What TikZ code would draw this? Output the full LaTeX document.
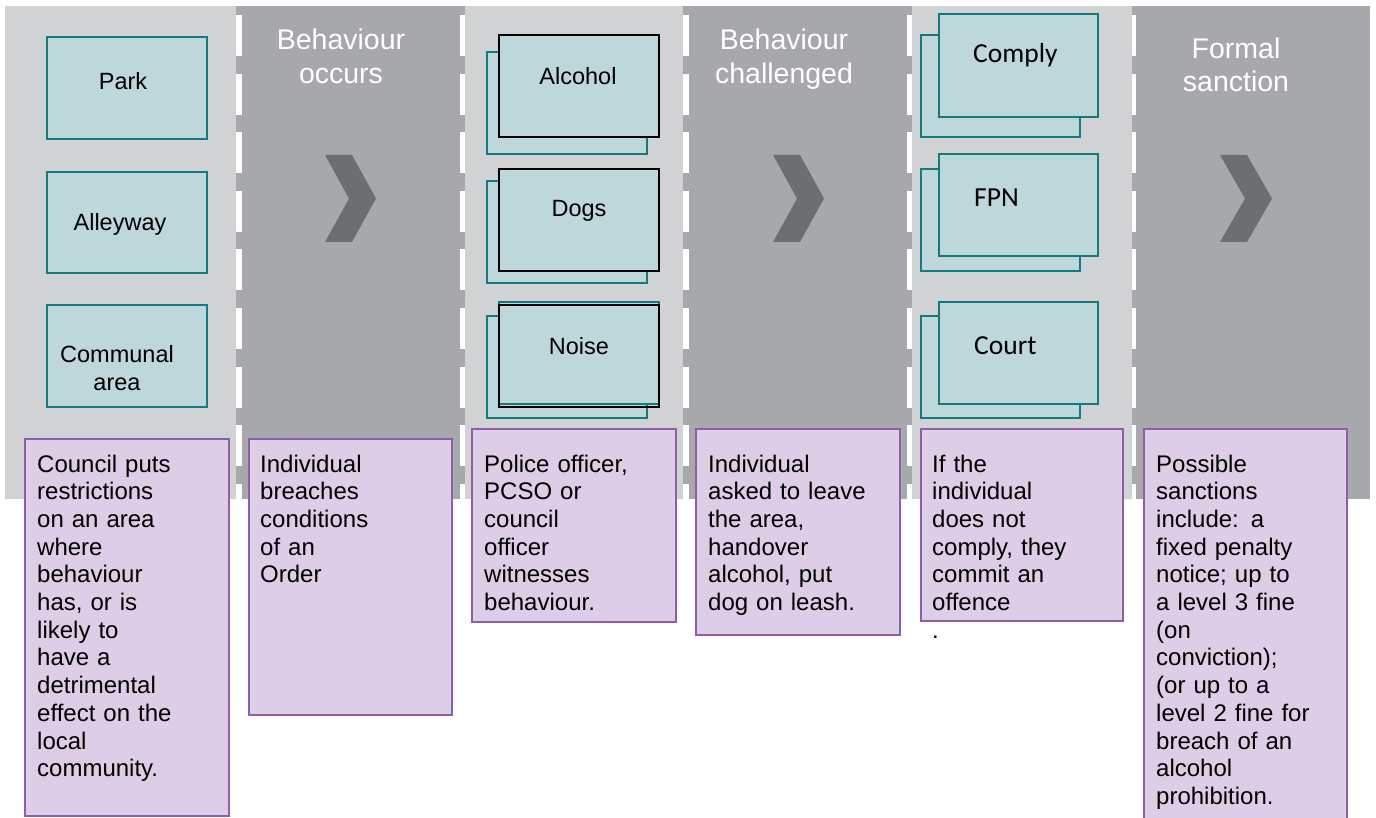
\documentclass[tikz,border=0pt]{standalone}
\usepackage{fontspec}
\setmainfont{Liberation Sans}
\newfontfamily\calfont{Carlito}
\definecolor{lightcol}{HTML}{D1D2D4}
\definecolor{darkcol}{HTML}{A7A8AB}
\definecolor{chevcol}{HTML}{6D6E71}
\definecolor{tealfill}{HTML}{BDD7DA}
\definecolor{tealline}{HTML}{127B7E}
\definecolor{purfill}{HTML}{DDCDE6}
\definecolor{purline}{HTML}{8F5EA9}
\begin{document}
\begin{tikzpicture}[x=1pt,y=-1pt,
  lightstrip/.style={fill=lightcol},
  darkstrip/.style={fill=darkcol},
  divider/.style={draw=white,line width=5.5pt,dash pattern=on 41pt off 17.6pt},
  chevron/.style={fill=chevcol},
  header/.style={text=white,font=\fontsize{28.5}{34}\selectfont,text width=230pt,align=center,inner sep=0pt,anchor=base},
  tbox/.style={draw=tealline,fill=tealfill,line width=1.3pt,inner sep=0pt,minimum width=160pt,minimum height=102pt},
  fbox/.style={draw=black,fill=tealfill,line width=2pt,inner sep=0pt,minimum width=160pt,minimum height=102pt},
  cbox/.style={draw=tealline,fill=tealfill,line width=1.8pt,inner sep=0pt,minimum width=159pt,minimum height=102pt},
  tlabel/.style={font=\fontsize{23.5}{27.3}\selectfont,inner sep=0pt,anchor=base,text width=160pt,align=center},
  clabel/.style={font=\calfont\fontsize{27.5}{33}\selectfont,inner sep=0pt,anchor=base west},
  pbox/.style={draw=purline,fill=purfill,line width=1.5pt,inner sep=0pt},
  ptext/.style={font=\fontsize{24}{27.7}\selectfont,inner sep=0pt,anchor=base west,text width=200pt,align=left},
]
\clip (0,0) rectangle (1376,818);
% strips
\fill[lightstrip] (5,6) rectangle (236,499);
\fill[darkstrip] (236,6) rectangle (465,499);
\fill[lightstrip] (465,6) rectangle (683,499);
\fill[darkstrip] (683,6) rectangle (912,499);
\fill[lightstrip] (912,6) rectangle (1132,499);
\fill[darkstrip] (1132,6) rectangle (1370,499);
% dividers
\draw[divider] (239,15) -- (239,499);
\draw[divider] (462.5,15) -- (462.5,499);
\draw[divider] (685.8,15) -- (685.8,499);
\draw[divider] (909.7,15) -- (909.7,499);
\draw[divider,line width=4.3pt] (1133.8,15) -- (1133.8,499);
% chevrons
\fill[chevron] (325,155) -- (352,155) -- (376,198.5) -- (352,242) -- (325,242) -- (349,198.5) -- cycle;
\fill[chevron] (773,155) -- (800,155) -- (824,198.5) -- (800,242) -- (773,242) -- (797,198.5) -- cycle;
\fill[chevron] (1220,155) -- (1247,155) -- (1272,198.5) -- (1247,242) -- (1220,242) -- (1245,198.5) -- cycle;
% headers
\node[header] (h1) at (341,50) {Behaviour\\occurs};
\node[header] (h2) at (784,50) {Behaviour\\challenged};
\node[header,font=\fontsize{28.5}{33}\selectfont] (h3) at (1236,59) {Formal\\sanction};
% column 1
\node[tbox] (park) at (127,88) {};
\node[tbox,minimum height=101pt] (alley) at (127,222.5) {};
\node[tbox] (communal) at (127,356) {};
\node[tlabel] (parkt) at (123,90) {Park};
\node[tlabel] (alleyt) at (120,231) {Alleyway};
\node[tlabel] (communalt) at (117,362.7) {Communal\\area};
% column 3
\node[tbox] (alcb) at (567,103) {};
\node[fbox] (alcf) at (579,86) {};
\node[tbox] (dogb) at (567,232) {};
\node[fbox] (dogf) at (579,220) {};
\node[tbox] (noib) at (567,367) {};
\node[tbox,line width=1.8pt] (noif) at (579,353) {};
\node[fbox,fill=none] (noifb) at (579,356) {};
\node[tlabel] (alct) at (578,85) {Alcohol};
\node[tlabel] (dogt) at (579,217) {Dogs};
\node[tlabel] (noit) at (579,354) {Noise};
% column 5
\node[cbox] (comb) at (1000.5,86) {};
\node[cbox,minimum height=103pt] (comf) at (1018.5,65.5) {};
\node[cbox] (fpnb) at (1000.5,220) {};
\node[cbox] (fpnf) at (1018.5,205) {};
\node[cbox] (courb) at (1000.5,367) {};
\node[cbox] (courf) at (1018.5,353) {};
\node[clabel] (comt) at (973,62.7) {Comply};
\node[clabel] (fpnt) at (974,206.7) {FPN};
\node[clabel] (court) at (974,354) {Court};
% purple boxes
\node[pbox,minimum width=204pt,minimum height=377pt] (p1) at (127,627.5) {};
\node[pbox,minimum width=203pt,minimum height=276pt] (p2) at (350.5,577) {};
\node[pbox,minimum width=204pt,minimum height=193pt] (p3) at (574,525.5) {};
\node[pbox,minimum width=204pt,minimum height=206pt] (p4) at (798,532) {};
\node[pbox,minimum width=202pt,minimum height=192pt] (p5) at (1022,525) {};
\node[pbox,minimum width=203pt,minimum height=401pt] (p6) at (1245.5,629.5) {};
\node[ptext] (t1) at (37,472) {Council puts\\restrictions\\on an area\\where\\behaviour\\has, or is\\likely to\\have a\\detrimental\\effect on the\\local\\community.};
\node[ptext] (t2) at (260,472) {Individual\\breaches\\conditions\\of an\\Order};
\node[ptext] (t3) at (484,472) {Police officer,\\PCSO or\\council\\officer\\witnesses\\behaviour.};
\node[ptext] (t4) at (708,472) {Individual\\asked to leave\\the area,\\handover\\alcohol, put\\dog on leash.};
\node[ptext] (t5) at (932,472) {If the\\individual\\does not\\comply, they\\commit an\\offence\\.};
\node[ptext] (t6) at (1156,472) {Possible\\sanctions\\include: a\\fixed penalty\\notice; up to\\a level 3 fine\\(on\\conviction);\\(or up to a\\level 2 fine for\\breach of an\\alcohol\\prohibition.};
\end{tikzpicture}
\end{document}
